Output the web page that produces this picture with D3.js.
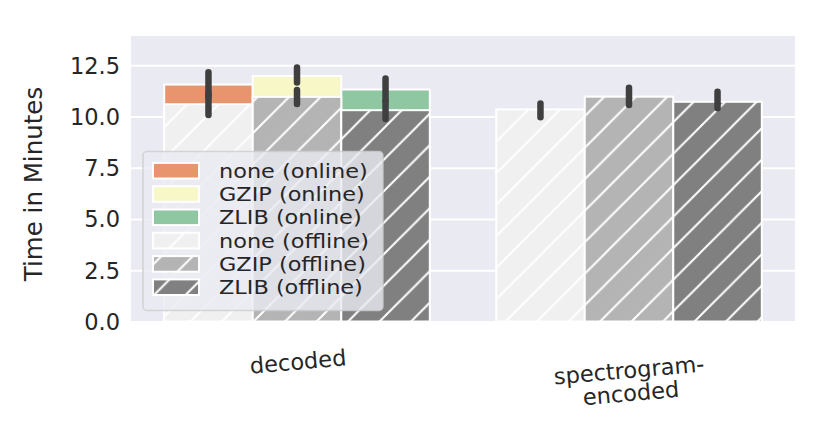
<!DOCTYPE html>
<html>
<head>
<meta charset="utf-8">
<script src="https://cdn.jsdelivr.net/npm/d3@7"></script>
<style>
  html, body { margin: 0; padding: 0; background: #ffffff; }
  svg { display: block; }
  text { font-family: "DejaVu Sans", sans-serif; fill: #262626; }
</style>
</head>
<body>
<svg id="chart" width="831" height="430"></svg>
<script>
// ---- data ----
const categories = ["decoded", "spectrogram-encoded"];
const categoryLabels = [["decoded"], ["spectrogram-", "encoded"]];
const compressions = ["none", "GZIP", "ZLIB"];

// online runs (only for "decoded"; none for spectrogram-encoded)
const onlineMean = [[11.56, 11.98, 11.32], [null, null, null]];
const onlineLow  = [[10.96, 11.66, 10.78], [null, null, null]];
const onlineHigh = [[12.16, 12.39, 11.86], [null, null, null]];

// offline runs
const offlineMean = [[10.60, 10.96, 10.31], [10.35, 10.97, 10.72]];
const offlineLow  = [[10.07, 10.61, 9.88], [9.96, 10.56, 10.40]];
const offlineHigh = [[11.13, 11.29, 10.75], [10.64, 11.41, 11.21]];

const yTicks = [0, 2.5, 5.0, 7.5, 10.0, 12.5];
const yMax = 13.93;

const onlineColors = ["#e8946d", "#f7f7c7", "#8fc7a3"];
const offlineColors = ["#f0f0f0", "#b4b4b4", "#808080"];
const legendLabels = ["none (online)", "GZIP (online)", "ZLIB (online)",
                      "none (offline)", "GZIP (offline)", "ZLIB (offline)"];

// ---- layout ----
const plot = { left: 131, right: 795, top: 36, bottom: 321.5 };
const FS = 22.5;

const svg = d3.select("#chart");

const x = d3.scaleBand().domain(categories)
  .range([plot.left, plot.right]).paddingInner(0.2).paddingOuter(0.1);
const xh = d3.scaleBand().domain(compressions).range([0, x.bandwidth()]);
const y = d3.scaleLinear().domain([0, yMax]).range([plot.bottom, plot.top]);

// hatch patterns
const defs = svg.append("defs");
const S = 31.5, K = 8;
offlineColors.forEach((c, i) => {
  const p = defs.append("pattern").attr("id", "hatch" + i)
    .attr("patternUnits", "userSpaceOnUse")
    .attr("x", K).attr("y", 0).attr("width", S).attr("height", S);
  p.append("rect").attr("width", S).attr("height", S).attr("fill", c);
  [[-2, S + 2, S + 2, -2], [-2, 2, 2, -2], [S - 2, S + 2, S + 2, S - 2]].forEach(l => {
    p.append("line").attr("x1", l[0]).attr("y1", l[1]).attr("x2", l[2]).attr("y2", l[3])
      .attr("stroke", "#ffffff").attr("stroke-width", 2);
  });
});

// background
svg.append("rect").attr("x", plot.left).attr("y", plot.top)
  .attr("width", plot.right - plot.left).attr("height", plot.bottom - plot.top)
  .attr("fill", "#eaeaf2");

// grid + y tick labels
const yAxis = d3.axisLeft(y).tickValues(yTicks).tickFormat(d3.format(".1f"))
  .tickSize(-(plot.right - plot.left)).tickPadding(11);
const gy = svg.append("g").attr("transform", `translate(${plot.left},0)`).call(yAxis);
gy.select(".domain").remove();
gy.selectAll(".tick line").attr("stroke", "#ffffff").attr("stroke-width", 2);
gy.selectAll(".tick text").attr("font-size", FS).attr("fill", "#262626")
  .attr("font-family", "DejaVu Sans").attr("dy", "0.35em");

// y label
svg.append("text")
  .attr("transform", `translate(33,184) rotate(-90)`)
  .attr("text-anchor", "middle").attr("dominant-baseline", "central")
  .attr("font-size", 24.5).text("Time in Minutes");

// bars
function drawBars(means, fills) {
  categories.forEach((cat, ci) => {
    compressions.forEach((comp, hi) => {
      const v = means[ci][hi];
      if (v == null) return;
      svg.append("rect")
        .attr("x", x(cat) + xh(comp)).attr("width", xh.bandwidth())
        .attr("y", y(v)).attr("height", y(0) - y(v))
        .attr("fill", fills(hi)).attr("stroke", "#ffffff").attr("stroke-width", 2);
    });
  });
}
function drawErr(lows, highs) {
  categories.forEach((cat, ci) => {
    compressions.forEach((comp, hi) => {
      const lo = lows[ci][hi], hiV = highs[ci][hi];
      if (lo == null) return;
      const cx = x(cat) + xh(comp) + xh.bandwidth() / 2;
      svg.append("line").attr("x1", cx).attr("x2", cx)
        .attr("y1", y(lo)).attr("y2", y(hiV))
        .attr("stroke", "#3f3f3f").attr("stroke-width", 6.5)
        .attr("stroke-linecap", "round");
    });
  });
}
drawBars(onlineMean, i => onlineColors[i]);
drawErr(onlineLow, onlineHigh);
drawBars(offlineMean, i => `url(#hatch${i})`);
drawErr(offlineLow, offlineHigh);

// x tick labels
const xLabelPos = [361.5, 381.5];
categories.forEach((cat, ci) => {
  const cx = x(cat) + x.bandwidth() / 2 + 1;
  const lines = categoryLabels[ci];
  const g = svg.append("g")
    .attr("transform", `translate(${cx},${xLabelPos[ci]}) rotate(-5)`);
  const t = g.append("text").attr("text-anchor", "middle")
    .attr("dominant-baseline", "central").attr("font-size", FS);
  lines.forEach((ln, li) => {
    t.append("tspan").attr("x", 0)
      .attr("y", (li - (lines.length - 1) / 2) * 23).text(ln);
  });
});

// legend
const leg = svg.append("g");
leg.append("rect").attr("x", 143).attr("y", 151.5).attr("width", 240).attr("height", 159)
  .attr("rx", 4).attr("fill", "#eaeaf2").attr("fill-opacity", 0.8)
  .attr("stroke", "#cccccc").attr("stroke-opacity", 0.8).attr("stroke-width", 1.5);
const legFills = onlineColors.concat(offlineColors.map((c, i) => `url(#hatch${i})`));
legendLabels.forEach((lab, i) => {
  const cy = 170.7 + i * 23.3;
  leg.append("rect").attr("x", 153).attr("y", cy - 7.8).attr("width", 46).attr("height", 15.6)
    .attr("fill", legFills[i]).attr("stroke", "#ffffff").attr("stroke-width", 2);
  leg.append("text").attr("transform", `translate(219,${cy}) scale(1.12,1)`)
    .attr("dominant-baseline", "central").attr("font-size", 20).text(lab);
});
</script>
</body>
</html>
